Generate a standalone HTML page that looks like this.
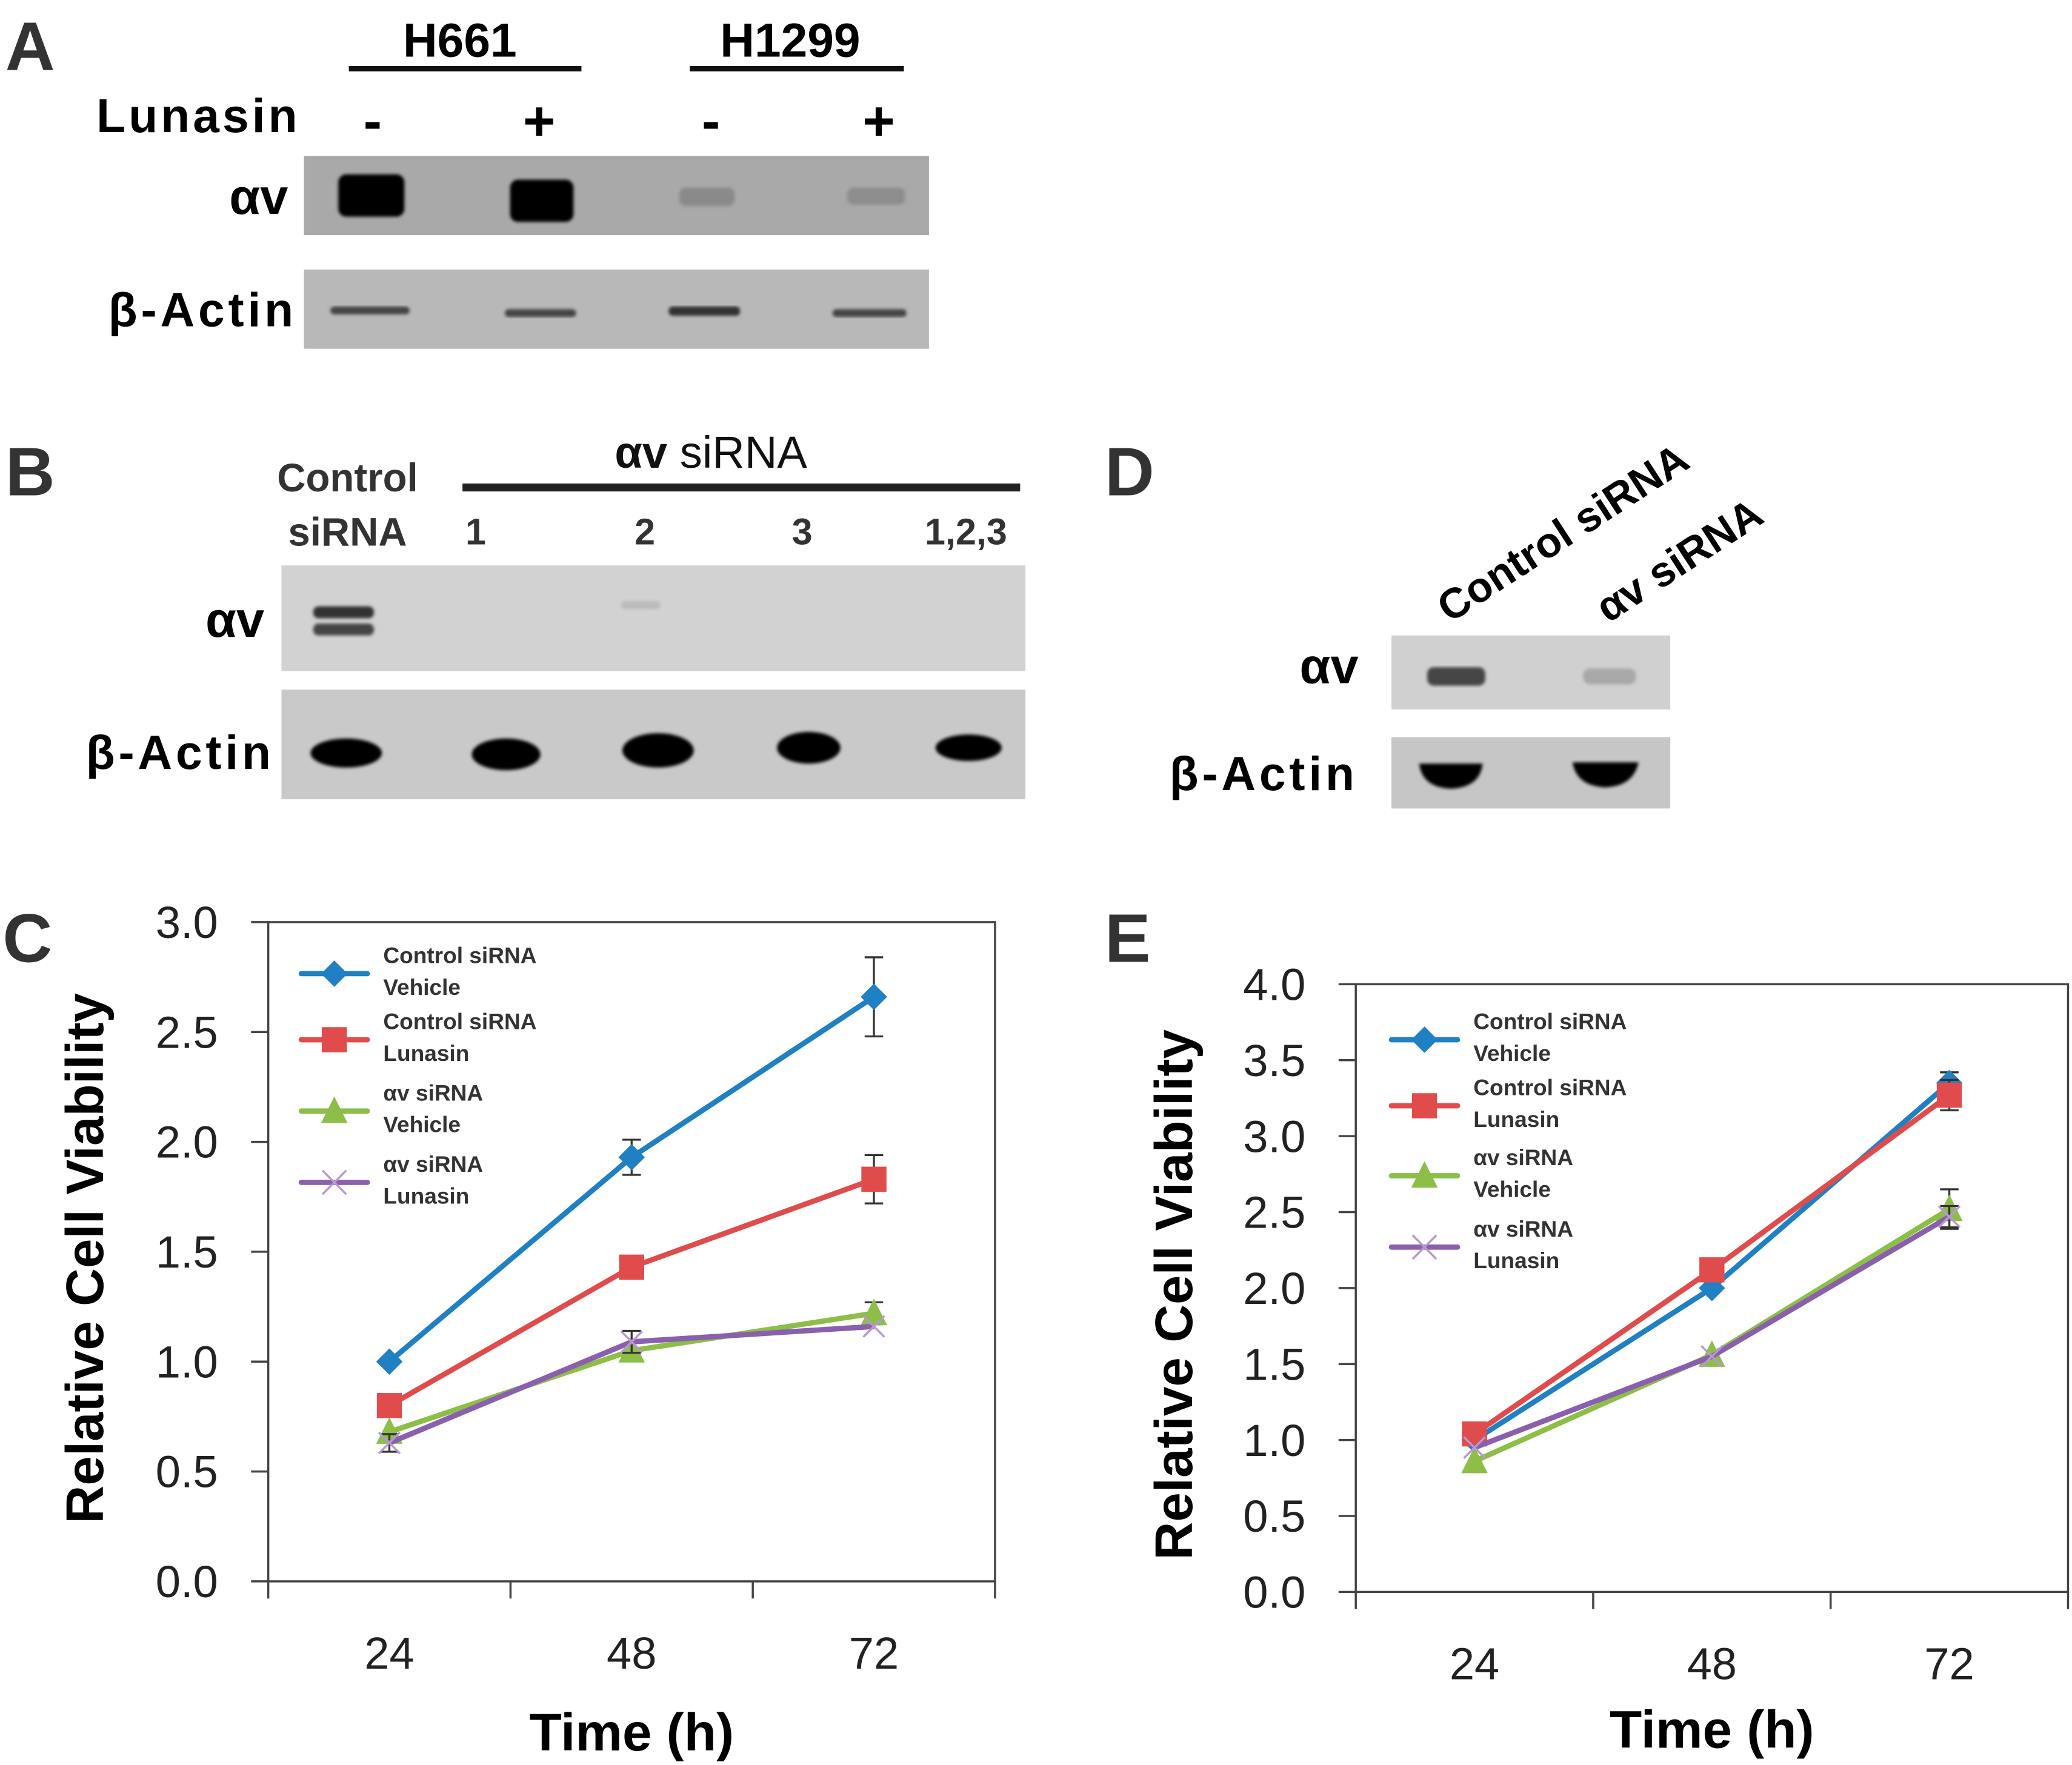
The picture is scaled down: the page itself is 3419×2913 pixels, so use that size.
<!DOCTYPE html>
<html><head><meta charset="utf-8"><style>
html,body{margin:0;padding:0;background:#fff;}
svg{display:block;}
text{font-family:"Liberation Sans",sans-serif;}
</style></head><body>
<svg id="fig" xmlns="http://www.w3.org/2000/svg" width="3419" height="2913" viewBox="0 0 1568 1336" preserveAspectRatio="none">
<defs>
<filter id="blur2"><feGaussianBlur stdDeviation="2.5"/></filter>
<filter id="blur1"><feGaussianBlur stdDeviation="1.2"/></filter>
</defs>
<g>
<text x="4" y="53" font-size="52" font-weight="bold" fill="#333">A</text>
<text x="348" y="43" font-size="36" font-weight="bold" text-anchor="middle">H661</text>
<rect x="264" y="50" width="176" height="4" fill="#111"/>
<text x="598" y="43" font-size="36" font-weight="bold" text-anchor="middle">H1299</text>
<rect x="522" y="50" width="162" height="4" fill="#111"/>
<text x="225" y="100" font-size="36" font-weight="bold" text-anchor="end" textLength="152">Lunasin</text>
<text x="282" y="106" font-size="42" font-weight="bold" text-anchor="middle">-</text>
<text x="408" y="106" font-size="42" font-weight="bold" text-anchor="middle">+</text>
<text x="538" y="106" font-size="42" font-weight="bold" text-anchor="middle">-</text>
<text x="665" y="106" font-size="42" font-weight="bold" text-anchor="middle">+</text>
<text x="218" y="162" font-size="38" font-weight="bold" text-anchor="end">αv</text>
<text x="222" y="247" font-size="36" font-weight="bold" text-anchor="end" textLength="140">β-Actin</text>
<rect x="230" y="118" width="473" height="60" fill="#a9a9a9"/>
<g filter="url(#blur1)">
<rect x="256" y="132" width="50" height="32" rx="6" fill="#050505"/>
<rect x="386" y="136" width="48" height="32" rx="6" fill="#050505"/>
<rect x="514" y="142" width="42" height="14" rx="5" fill="#8a8a8a"/>
<rect x="641" y="142" width="44" height="13" rx="5" fill="#8d8d8d"/>
</g>
<rect x="230" y="204" width="473" height="60" fill="#b8b8b8"/>
<g filter="url(#blur1)">
<rect x="250" y="232" width="60" height="6" rx="3" fill="#444"/>
<rect x="382" y="234" width="54" height="6" rx="3" fill="#444"/>
<rect x="506" y="232" width="54" height="7" rx="3" fill="#333"/>
<rect x="630" y="234" width="56" height="6" rx="3" fill="#444"/>
</g>
</g>
<g>
<text x="4" y="375" font-size="52" font-weight="bold" fill="#333">B</text>
<text x="263" y="372" font-size="30" font-weight="bold" fill="#333" text-anchor="middle">Control</text>
<text x="263" y="413" font-size="30" font-weight="bold" fill="#333" text-anchor="middle">siRNA</text>
<text x="538" y="354" font-size="34" font-weight="bold" fill="#111" text-anchor="middle">αv <tspan font-weight="normal">siRNA</tspan></text>
<rect x="350" y="366" width="422" height="6" fill="#222"/>
<text x="360" y="412" font-size="28" font-weight="bold" fill="#333" text-anchor="middle">1</text>
<text x="488" y="412" font-size="28" font-weight="bold" fill="#333" text-anchor="middle">2</text>
<text x="607" y="412" font-size="28" font-weight="bold" fill="#333" text-anchor="middle">3</text>
<text x="731" y="412" font-size="28" font-weight="bold" fill="#333" text-anchor="middle">1,2,3</text>
<text x="200" y="482" font-size="38" font-weight="bold" text-anchor="end">αv</text>
<text x="205" y="582" font-size="36" font-weight="bold" text-anchor="end" textLength="140">β-Actin</text>
<rect x="213" y="428" width="563" height="80" fill="#d2d2d2"/>
<g filter="url(#blur1)">
<rect x="237" y="459" width="46" height="9" rx="4" fill="#333"/>
<rect x="237" y="472" width="46" height="9" rx="4" fill="#444"/>
<rect x="470" y="455" width="30" height="6" rx="3" fill="#bbb"/>
</g>
<rect x="213" y="522" width="563" height="83" fill="#c9c9c9"/>
<g filter="url(#blur1)">
<ellipse cx="262" cy="570" rx="27" ry="11" fill="#050505"/>
<ellipse cx="383" cy="571" rx="26" ry="12" fill="#050505"/>
<ellipse cx="498" cy="568" rx="27" ry="13" fill="#050505"/>
<ellipse cx="612" cy="566" rx="24" ry="12" fill="#050505"/>
<ellipse cx="733" cy="566" rx="25" ry="10" fill="#050505"/>
</g>
</g>
<g>
<text x="836" y="375" font-size="52" font-weight="bold" fill="#333">D</text>
<text x="0" y="0" font-size="32" font-weight="bold" transform="translate(1097,472) rotate(-33)">Control siRNA</text>
<text x="0" y="0" font-size="32" font-weight="bold" transform="translate(1217,472) rotate(-33)">αv siRNA</text>
<text x="1028" y="517" font-size="38" font-weight="bold" text-anchor="end">αv</text>
<text x="1025" y="598" font-size="36" font-weight="bold" text-anchor="end" textLength="140">β-Actin</text>
<rect x="1053" y="481" width="211" height="56" fill="#d0d0d0"/>
<g filter="url(#blur1)">
<rect x="1080" y="505" width="44" height="14" rx="5" fill="#444"/>
<rect x="1198" y="506" width="40" height="12" rx="5" fill="#a8a8a8"/>
</g>
<rect x="1053" y="558" width="211" height="54" fill="#c6c6c6"/>
<g filter="url(#blur1)">
<path d="M1074 578 L1122 578 Q1120 596 1098 597 Q1076 596 1074 578 Z" fill="#050505"/>
<path d="M1190 577 L1240 577 Q1236 595 1215 596 Q1193 595 1190 577 Z" fill="#050505"/>
</g>
</g>
<g id="chartC"></g>
<g id="chartE"></g>
</svg>
<script>
var categories = ["24","48","72"];
var seriesNames = ["Control siRNA|Vehicle","Control siRNA|Lunasin","αv siRNA|Vehicle","αv siRNA|Lunasin"];
var cTicks = ["0.0","0.5","1.0","1.5","2.0","2.5","3.0"];
var eTicks = ["0.0","0.5","1.0","1.5","2.0","2.5","3.0","3.5","4.0"];
var cBlue = [1.00, 1.93, 2.66];
var cRed = [0.80, 1.43, 1.83];
var cGreen = [0.68, 1.05, 1.22];
var cPurple = [0.63, 1.09, 1.16];
var cBlueErr = [0.02, 0.08, 0.18];
var cRedErr = [0.02, 0.02, 0.11];
var cGreenErr = [0.02, 0.02, 0.05];
var cPurpleErr = [0.04, 0.05, 0.03];
var eBlue = [1.00, 2.00, 3.35];
var eRed = [1.04, 2.12, 3.27];
var eGreen = [0.86, 1.56, 2.52];
var ePurple = [0.95, 1.55, 2.47];
var eBlueErr = [0.02, 0.03, 0.07];
var eRedErr = [0.02, 0.03, 0.10];
var eGreenErr = [0.02, 0.03, 0.13];
var ePurpleErr = [0.02, 0.03, 0.07];

var NS = "http://www.w3.org/2000/svg";
var colors = ["#2080c4","#e04c4c","#8cbe48","#8a5fae"];
var markers = ["diamond","square","triangle","cross"];
function mk(tag, attrs, parent){var e=document.createElementNS(NS,tag);for(var k in attrs)e.setAttribute(k,attrs[k]);parent.appendChild(e);return e;}

function drawMarker(g, type, x, y, color, s){
  var m;
  if(type==="diamond"){m=mk("path",{d:"M"+x+" "+(y-s)+" L"+(x+s)+" "+y+" L"+x+" "+(y+s)+" L"+(x-s)+" "+y+" Z",fill:color},g);}
  else if(type==="square"){m=mk("rect",{x:x-s*0.95,y:y-s*0.95,width:s*1.9,height:s*1.9,fill:color},g);}
  else if(type==="triangle"){m=mk("path",{d:"M"+x+" "+(y-s*1.1)+" L"+(x+s)+" "+(y+s*0.9)+" L"+(x-s)+" "+(y+s*0.9)+" Z",fill:color},g);}
  else {m=mk("path",{d:"M"+(x-s)+" "+(y-s)+" L"+(x+s)+" "+(y+s)+" M"+(x+s)+" "+(y-s)+" L"+(x-s)+" "+(y+s),stroke:"#b898d0","stroke-width":1.6,fill:"none"},g);}
  return m;
}

function drawChart(g, cfg){
  var x0=cfg.x0,x1=cfg.x1,yTop=cfg.yTop,yBot=cfg.yBot,ymax=cfg.ymax;
  function sy(v){return yBot-(v/ymax)*(yBot-yTop);}
  var step=(x1-x0)/categories.length;
  function sx(i){return x0+step*(i+0.5);}
  var frame=mk("rect",{x:x0,y:yTop,width:x1-x0,height:yBot-yTop,fill:"none",stroke:"#444","stroke-width":1.6},g);
  
  
  cfg.ticks.forEach(function(t){
    var v=parseFloat(t),y=sy(v);
    var tl=mk("line",{x1:x0-13,x2:x0,y1:y,y2:y,stroke:"#444","stroke-width":1.6},g);
    
    
    var tx=mk("text",{x:x0-38,y:y+12,"font-size":34,"text-anchor":"end",fill:"#222"},g);
    tx.textContent=t;
    
    
  });
  for(var i=0;i<=categories.length;i++){
    var xt=x0+step*i;
    var xl=mk("line",{x1:xt,x2:xt,y1:yBot,y2:yBot+13,stroke:"#444","stroke-width":1.6},g);
    
    
  }
  categories.forEach(function(c,i){
    var t=mk("text",{x:sx(i),y:yBot+66,"font-size":34,"text-anchor":"middle",fill:"#222"},g);
    t.textContent=c;
    
    
  });
  var yt=mk("text",{x:0,y:0,"font-size":40,"font-weight":"bold","text-anchor":"middle",transform:"translate("+cfg.yTitleX+","+((yTop+yBot)/2+5)+") rotate(-90)"},g);
  yt.textContent="Relative Cell Viability";
  
  
  var xtT=mk("text",{x:(x0+x1)/2,y:cfg.xTitleY,"font-size":40,"font-weight":"bold","text-anchor":"middle"},g);
  xtT.textContent="Time (h)";
  
  
  var pl=mk("text",{x:cfg.labelX,y:cfg.labelY,"font-size":52,"font-weight":"bold",fill:"#333"},g);
  pl.textContent=cfg.label;
  
  
  cfg.series.forEach(function(vals,s){
    var sg=mk("g",{},g);
    
    
    var errs=cfg.errs[s];
    vals.forEach(function(v,i){
      var e=errs[i];
      if(e>0.03){
        var eb=mk("path",{d:"M"+sx(i)+" "+sy(v+e)+" V"+sy(v-e)+" M"+(sx(i)-7)+" "+sy(v+e)+" h14 M"+(sx(i)-7)+" "+sy(v-e)+" h14",stroke:"#333","stroke-width":1.5,fill:"none"},sg);
        
        
      }
    });
    var pts=vals.map(function(v,i){return sx(i)+","+sy(v);}).join(" ");
    var line=mk("polyline",{points:pts,fill:"none",stroke:colors[s],"stroke-width":4},sg);
    
    
    vals.forEach(function(v,i){
      var m=drawMarker(sg,markers[s],sx(i),sy(v),colors[s],markers[s]==="cross"?8:10);
      
      
    });
  });
  var lg=mk("g",{},g);
  
  
  cfg.legendY.forEach(function(ly,s){
    var ent=mk("g",{},lg);
    
    
    mk("line",{x1:cfg.legendX,x2:cfg.legendX+50,y1:ly,y2:ly,stroke:colors[s],"stroke-width":4,"stroke-linecap":"round"},ent);
    drawMarker(ent,markers[s],cfg.legendX+25,ly,colors[s],markers[s]==="cross"?9:10);
    var parts=seriesNames[s].split("|");
    var t1=mk("text",{x:cfg.legendX+62,y:ly-8,"font-size":17,"font-weight":"bold",fill:"#333"},ent);
    t1.textContent=parts[0];
    var t2=mk("text",{x:cfg.legendX+62,y:ly+16,"font-size":17,"font-weight":"bold",fill:"#333"},ent);
    t2.textContent=parts[1];
  });
}

drawChart(document.getElementById("chartC"),{
  x0:203,x1:753,yTop:698,yBot:1197,ymax:3.0,ticks:cTicks,
  series:[cBlue,cRed,cGreen,cPurple],errs:[cBlueErr,cRedErr,cGreenErr,cPurpleErr],
  legendX:228,legendY:[737,787,841,895],yTitleX:78,xTitleY:1325,label:"C",labelX:2,labelY:728
});
drawChart(document.getElementById("chartE"),{
  x0:1026,x1:1565,yTop:745,yBot:1205,ymax:4.0,ticks:eTicks,
  series:[eBlue,eRed,eGreen,ePurple],errs:[eBlueErr,eRedErr,eGreenErr,ePurpleErr],
  legendX:1053,legendY:[787,837,890,944],yTitleX:902,xTitleY:1323,label:"E",labelX:836,labelY:728
});
</script>
</body></html>
